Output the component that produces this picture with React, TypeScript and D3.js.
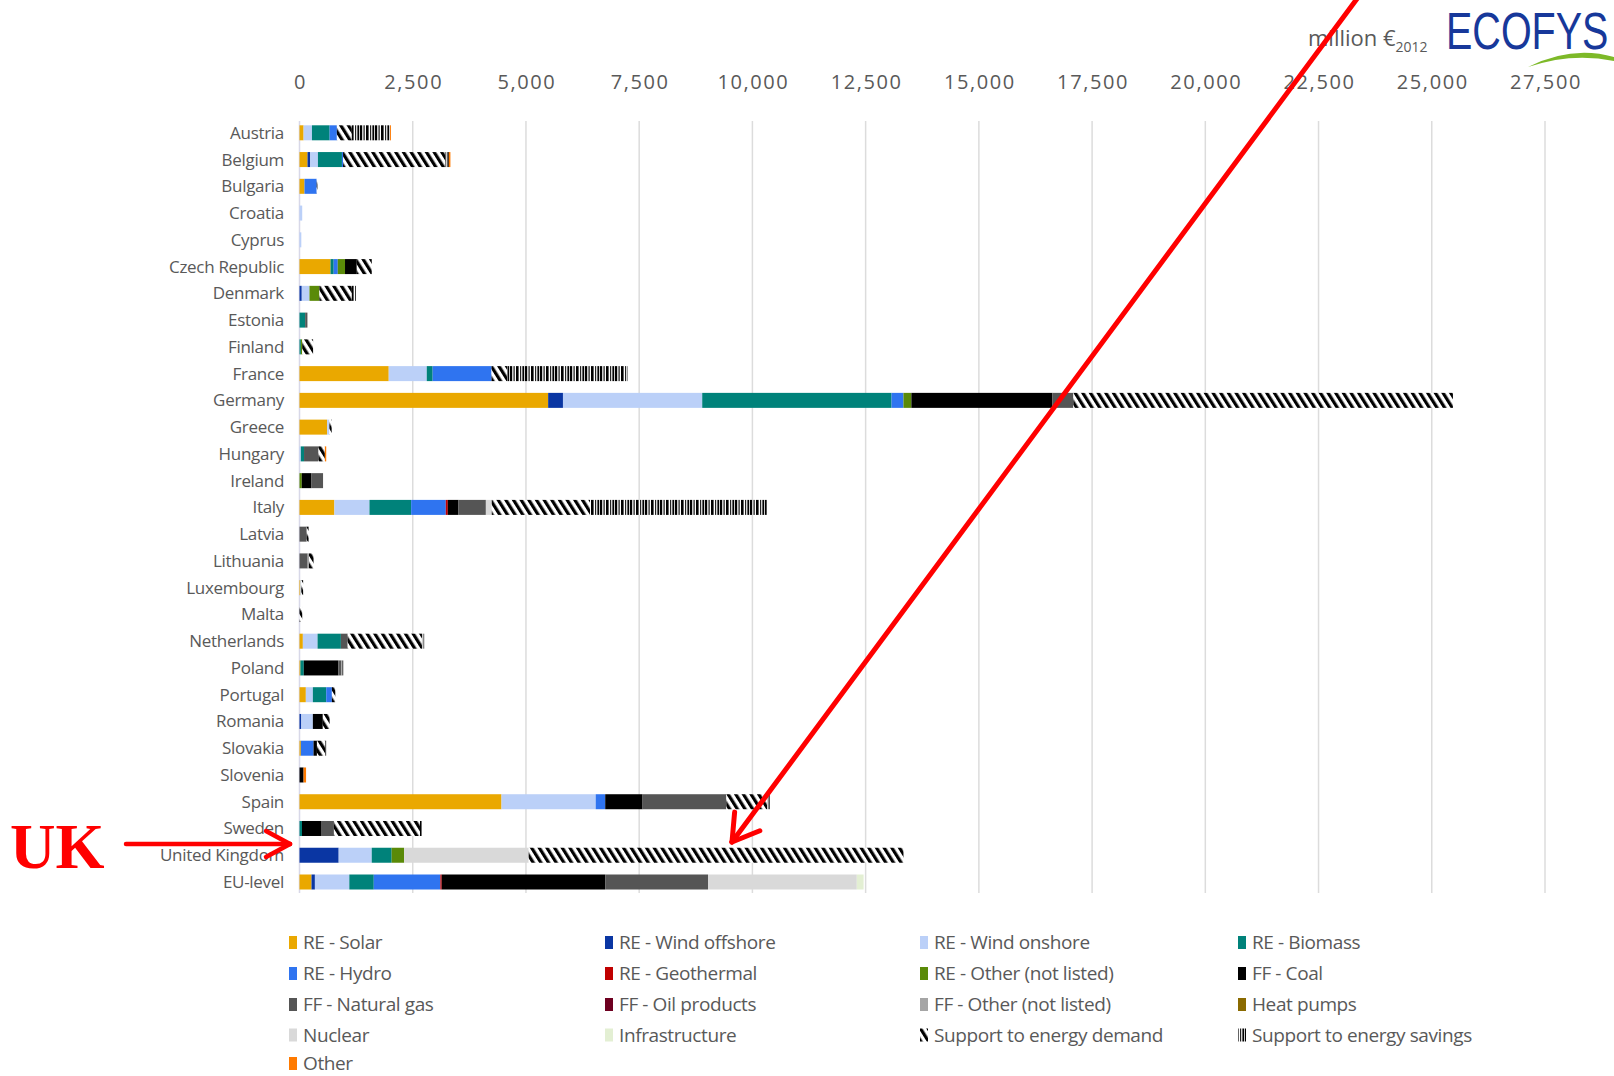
import React from 'react';
import * as d3 from 'd3';

const countries = ['Austria','Belgium','Bulgaria','Croatia','Cyprus','Czech Republic','Denmark','Estonia','Finland','France','Germany','Greece','Hungary','Ireland','Italy','Latvia','Lithuania','Luxembourg','Malta','Netherlands','Poland','Portugal','Romania','Slovakia','Slovenia','Spain','Sweden','United Kingdom','EU-level'];

const tickValues = [0,2500,5000,7500,10000,12500,15000,17500,20000,22500,25000,27500];

//                    Au   Be   Bu  Cr  Cy  Cz   De   Es   Fi  Fr    Ge    Gr  Hu  Ir   It   La  Li  Lu  Ma  Ne   Po   Pt   Ro   Sk   Sl  Sp    Sw   UK   EU
const reSolar =      [90, 177, 110, 0,  0,  685, 0,   0,   0,  1970, 5490, 610, 0,  0,   770, 0,  0,  20, 0,  74,  20,  140, 0,   30,  0,  4460, 0,   0,   265];
const reWindOff =    [0,  60,  0,   0,  0,  0,   50,  0,   0,  0,    327,  0,   0,  0,   0,   0,  0,  0,  0,  0,   0,   0,   40,  0,   0,  0,    0,   865, 75];
const reWindOn =     [185,170, 0,   60, 40, 0,   170, 0,   0,  840,  3075, 50,  30, 0,   775, 0,  0,  20, 0,  325, 0,   155, 255, 0,   0,  2080, 0,   730, 760];
const reBiomass =    [390,530, 0,   0,  0,  70,  0,   125, 30, 130,  4180, 0,   70, 0,   920, 0,  0,  0,  0,  515, 75,  295, 0,   0,   0,  0,    55,  440, 540];
const reHydro =      [160,25,  270, 0,  0,  90,  0,   0,   0,  1300, 263,  0,   0,  0,   765, 0,  0,  0,  0,  0,   0,   125, 0,   280, 0,  210,  0,   0,   1470];
const reGeo =        [0,  0,   0,   0,  0,  0,   0,   0,   0,  0,    0,    0,   0,  0,   45,  0,  0,  0,  0,  0,   0,   0,   0,   0,   0,  0,    0,   0,   30];
const reOther =      [0,  0,   0,   0,  0,  160, 220, 0,   30, 0,    175,  0,   0,  50,  0,   0,  0,  0,  0,  0,   0,   0,   0,   0,   0,  0,    0,   275, 0];
const ffCoal =       [0,  0,   0,   0,  0,  260, 0,   0,   0,  0,    3115, 0,   0,  215, 235, 0,  0,  0,  0,  0,   760, 0,   220, 75,  90, 825,  420, 0,   3610];
const ffGas =        [0,  0,   0,   0,  0,  0,   0,   50,  0,  0,    462,  0,   320,255, 605, 160,180,0,  0,  150, 75,  0,   0,   0,   0,  1850, 285, 0,   2270];
const ffOil =        [0,  0,   0,   0,  0,  0,   0,   0,   0,  0,    0,    0,   0,  0,   0,   0,  0,  0,  0,  0,   0,   0,   0,   0,   0,  0,    0,   0,   0];
const ffOther =      [0,  0,   0,   0,  0,  0,   0,   0,   0,  0,    0,    0,   0,  0,   0,   0,  30, 0,  0,  0,   0,   0,   0,   0,   0,  0,    0,   0,   0];
const heatPumps =    [0,  0,   0,   0,  0,  0,   0,   0,   0,  0,    0,    0,   0,  0,   0,   0,  0,  0,  0,  0,   0,   0,   0,   0,   0,  0,    0,   0,   0];
const nuclear =      [0,  0,   0,   0,  0,  0,   0,   0,   0,  0,    0,    0,   0,  0,   130, 0,  0,  0,  0,  0,   0,   0,   0,   0,   0,  0,    0,   2750,3285];
const infra =        [0,  0,   0,   0,  0,  0,   0,   0,   0,  0,    0,    0,   0,  0,   0,   0,  0,  0,  0,  0,   0,   0,   0,   0,   0,  0,    0,   0,   150];
const supDemand =    [330,2260,15,  0,  0,  330, 715, 0,   240,345,  8380, 50,  140,0,   2170,40, 100,40, 60, 1640,0,   75,  150, 185, 0,  900,  1900,8275,0];
const supSavings =   [845,75,  0,   0,  0,  0,   90,  0,   0,  2660, 0,    0,   0,  0,   3900,0,  0,  0,  0,  50,  35,  0,   0,   30,  0,  85,   35,  0,   0];
const other =        [20, 35,  0,   0,  0,  0,   0,   0,   0,  0,    0,    0,   30, 0,   0,   0,  0,  0,  0,  0,   0,   0,   0,   0,   55, 0,    0,   0,   0];

const seriesKeys = ['reSolar','reWindOff','reWindOn','reBiomass','reHydro','reGeo','reOther','ffCoal','ffGas','ffOil','ffOther','heatPumps','nuclear','infra','supDemand','supSavings','other'];
const seriesData = [reSolar,reWindOff,reWindOn,reBiomass,reHydro,reGeo,reOther,ffCoal,ffGas,ffOil,ffOther,heatPumps,nuclear,infra,supDemand,supSavings,other];
const seriesLabels = ['RE - Solar','RE - Wind offshore','RE - Wind onshore','RE - Biomass','RE - Hydro','RE - Geothermal','RE - Other (not listed)','FF - Coal','FF - Natural gas','FF - Oil products','FF - Other (not listed)','Heat pumps','Nuclear','Infrastructure','Support to energy demand','Support to energy savings','Other'];
const seriesFills = ['#EAA800','#0A36A3','#BBD0F8','#00827A','#2F74F0','#C00000','#5A8A08','#000000','#555555','#6E0020','#A5A5A5','#8A6A00','#D9D9D9','#E3EFD3','url(#hatchDemand)','url(#hatchSavings)','#FF7A00'];

export default function App() {
  const W = 1614, H = 1076;
  const x = d3.scaleLinear().domain([0, 27500]).range([299.5, 1545]);
  const y = d3.scalePoint<string>().domain(countries).range([132.8, 882]);
  const barH = 15;

  const rows = countries.map((c, i) => {
    const o: any = { country: c };
    seriesKeys.forEach((k, j) => { o[k] = seriesData[j][i]; });
    return o;
  });
  const stacked = d3.stack<any>().keys(seriesKeys)(rows);
  const fmt = d3.format(',');
  const font = "'Open Sans', 'DejaVu Sans', sans-serif";

  // legend
  const legCols = [289, 605, 920, 1238];
  const legRows = [943, 974, 1005, 1035.5, 1064];

  // big arrow
  const tip = [732, 842];
  const start = [1362, -8];
  const dx = start[0] - tip[0], dy = start[1] - tip[1];
  const len = Math.sqrt(dx * dx + dy * dy);
  const ux = dx / len, uy = dy / len;
  const wing = (ang: number) => {
    const c = Math.cos(ang), s = Math.sin(ang);
    return [tip[0] + 30 * (ux * c - uy * s), tip[1] + 30 * (ux * s + uy * c)];
  };
  const w1 = wing(0.55), w2 = wing(-0.55);

  return (
    <svg width={W} height={H} style={{ position: 'absolute', left: 0, top: 0, background: '#fff' }}>
      <defs>
        <pattern id="hatchDemand" patternUnits="userSpaceOnUse" width="6.5" height="6.5" patternTransform="rotate(-32)">
          <rect x="0" y="0" width="6.5" height="6.5" fill="#fff" />
          <rect x="0" y="0" width="3.2" height="6.5" fill="#000" />
        </pattern>
        <pattern id="hatchSavings" patternUnits="userSpaceOnUse" width="15" height="10">
          <rect x="0" y="0" width="15" height="10" fill="#fff" />
          <rect x="0" y="0" width="2.2" height="10" fill="#000" />
          <rect x="3.5" y="0" width="1.2" height="10" fill="#111" />
          <rect x="6" y="0" width="2.6" height="10" fill="#000" />
          <rect x="10" y="0" width="1.2" height="10" fill="#222" />
          <rect x="12.4" y="0" width="1.8" height="10" fill="#000" />
        </pattern>
      </defs>

      {/* gridlines */}
      {tickValues.map(t => (
        <line key={'g' + t} x1={x(t)} x2={x(t)} y1={121} y2={893} stroke={t === 0 ? '#D8D8E8' : '#DCDCDC'} strokeWidth={1.5} />
      ))}
      {/* tick labels */}
      {tickValues.map(t => (
        <text key={'t' + t} x={x(t) + 1} y={89} textAnchor="middle" fontFamily={font} fontSize={20} fill="#595959" letterSpacing="1.6">{fmt(t)}</text>
      ))}

      {/* bars */}
      {stacked.map((s, j) => (
        <g key={s.key} fill={seriesFills[j]}>
          {s.map((d, i) => {
            const w = x(d[1]) - x(d[0]);
            if (w <= 0) return null;
            return <rect key={i} x={x(d[0])} y={(y(countries[i]) as number) - barH / 2} width={w} height={barH} />;
          })}
        </g>
      ))}

      {/* country labels */}
      {countries.map(c => (
        <text key={c} x={284} y={(y(c) as number) + 6} textAnchor="end" fontFamily={font} fontSize={17} fill="#595959" letterSpacing="-0.3">{c}</text>
      ))}

      {/* legend */}
      {seriesLabels.map((lab, j) => {
        const cx = legCols[j % 4], cy = legRows[Math.floor(j / 4)];
        return (
          <g key={lab}>
            <rect x={cx} y={cy - 7} width={8} height={13} fill={seriesFills[j]} />
            <text x={cx + 14} y={cy + 6} fontFamily={font} fontSize={19} fill="#595959" letterSpacing="-0.4">{lab}</text>
          </g>
        );
      })}

      {/* unit + logo */}
      <text x={1308} y={46} fontFamily={font} fontSize={22} fill="#595959">million €<tspan fontSize={14} dy={6}>2012</tspan></text>
      <text x={1446} y={49} fontFamily="'Liberation Sans', Arial, sans-serif" fontSize={52} fill="#17389A" transform="translate(1446,0) scale(0.76,1) translate(-1446,0)">ECOFYS</text>
      <path d="M1528,67 Q1572,45 1614,57 L1614,61 Q1572,52 1528,67 Z" fill="#7DB928" />

      {/* big red arrow */}
      <g stroke="#FF0000" strokeWidth={5} strokeLinecap="round" fill="none">
        <line x1={start[0]} y1={start[1]} x2={tip[0]} y2={tip[1]} />
        <line x1={tip[0]} y1={tip[1]} x2={w1[0]} y2={w1[1]} />
        <line x1={tip[0]} y1={tip[1]} x2={w2[0]} y2={w2[1]} />
      </g>
      {/* UK arrow */}
      <g stroke="#FF0000" strokeWidth={4.5} strokeLinecap="round" fill="none">
        <line x1={126} y1={844} x2={290} y2={844} />
        <line x1={290} y1={844} x2={266} y2={831} />
        <line x1={290} y1={844} x2={266} y2={857} />
      </g>
      <text x={10} y={868} fontFamily="'Liberation Serif', 'Times New Roman', serif" fontWeight="bold" fontSize={63} fill="#FF0000">UK</text>
    </svg>
  );
}
